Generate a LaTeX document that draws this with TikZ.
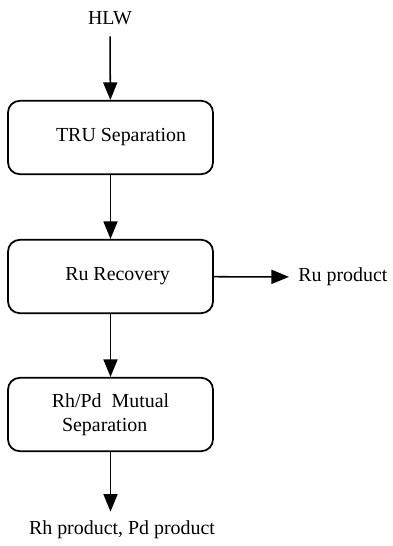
\documentclass[tikz,border=0pt]{standalone}
\usepackage{fontspec}
\setmainfont{Liberation Serif}
\usetikzlibrary{arrows.meta}

\begin{document}
\begin{tikzpicture}[x=0.03cm,y=-0.03cm,
  stage/.style={draw,line width=1.5pt,rounded corners=10pt,minimum width=6.15cm,minimum height=2.2cm,font=\fontsize{17}{20}\selectfont,align=center},
  flow/.style={line width=1.3pt,-{Triangle[length=15pt,width=12pt]}},
  lbl/.style={font=\fontsize{17}{20}\selectfont,inner sep=0pt}]
\useasboundingbox (0,0) rectangle (393,546);
\node[lbl,outer sep=10pt] (hlw) at (110,18) {HLW};
\node[stage] (tru) at (110.5,137.5) {\hspace*{18pt}TRU Separation};
\node[stage] (ru) at (110.5,276.5) {\hspace*{12pt}Ru Recovery};
\node[stage] (rhpd) at (110.5,414.5) {Rh/Pd\ \ Mutual\\\hspace*{-10pt}Separation};
\node[lbl,anchor=west,outer sep=8pt] (ruprod) at (289,277) {Ru product};
\node[lbl,outer sep=8pt] (pgm) at (122,530) {Rh product, Pd product};

\draw[flow] (hlw) -- (tru);
\draw[flow] (tru) -- (ru);
\draw[flow] (ru) -- (rhpd);
\draw[flow] (ru) -- (ruprod);
\draw[flow] (rhpd.south) -- (rhpd.south |- pgm.north);
\end{tikzpicture}
\end{document}
